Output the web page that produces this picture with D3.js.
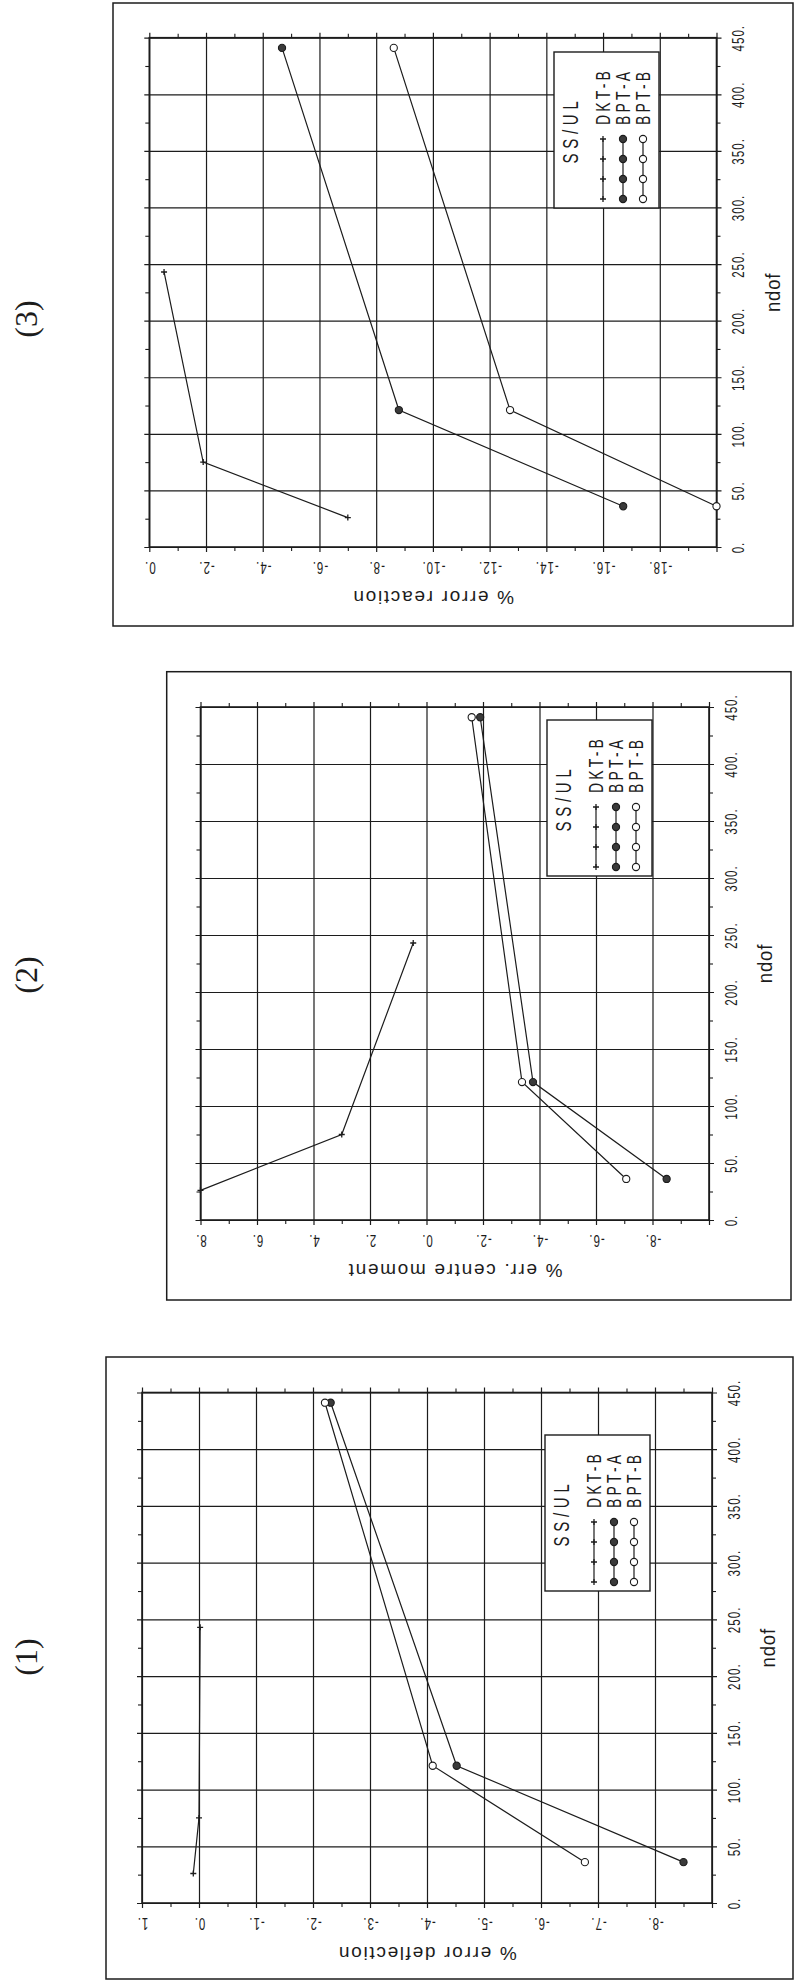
<!DOCTYPE html>
<html>
<head>
<meta charset="utf-8">
<script src="https://cdn.jsdelivr.net/npm/d3@7"></script>
<style>
  body { margin: 0; background: #fff; }
  svg { display: block; }
</style>
</head>
<body>
<div id="page"></div>
<script>
// ndof positions of the three meshes
const ndofTicks = [0, 50, 100, 150, 200, 250, 300, 350, 400, 450];
const ndofDKT = [26, 75, 243];
const ndofBPT = [36, 121, 441];

// (1) % error deflection
const deflTicks = [1, 0, -1, -2, -3, -4, -5, -6, -7, -8];
const deflDKT = [0.1, 0.0, -0.02];
const deflBPTA = [-8.5, -4.52, -2.31];
const deflBPTB = [-6.77, -4.1, -2.21];

// (2) % err. centre moment
const momTicks = [8, 6, 4, 2, 0, -2, -4, -6, -8];
const momDKT = [8.0, 3.0, 0.47];
const momBPTA = [-8.5, -3.77, -1.9];
const momBPTB = [-7.07, -3.38, -1.6];

// (3) % error reaction
const reacTicks = [0, -2, -4, -6, -8, -10, -12, -14, -16, -18];
const reacDKT = [-7.0, -1.9, -0.52];
const reacBPTA = [-16.71, -8.8, -4.68];
const reacBPTB = [-20.0, -12.72, -8.62];

const legendTitle = "SS/UL";
const seriesNames = ["DKT-B", "BPT-A", "BPT-B"];

const width = 795, height = 1981;
const ink = "#1c1c1c";
const sans = "'Liberation Sans', Arial, sans-serif";

const svg = d3.select("#page").append("svg")
  .attr("width", width)
  .attr("height", height)
  .style("background", "#fff");

function drawChart(cfg) {
  const g = svg.append("g");
  const p = cfg.plot;
  const W = p.right - p.left, H = p.bottom - p.top;

  const x = d3.scaleLinear().domain(cfg.domain).range([p.left, p.right]);
  const y = d3.scaleLinear().domain([0, 450]).range([p.bottom, p.top]);

  // outer frame
  g.append("rect")
    .attr("x", cfg.box.left).attr("y", cfg.box.top)
    .attr("width", cfg.box.right - cfg.box.left)
    .attr("height", cfg.box.bottom - cfg.box.top)
    .attr("fill", "none").attr("stroke", ink).attr("stroke-width", 1.5);

  // panel number
  g.append("text")
    .attr("transform", `translate(26,${cfg.numY}) rotate(-90)`)
    .attr("text-anchor", "middle").attr("dy", "0.35em")
    .style("font-family", "'Liberation Serif', serif")
    .style("font-size", "32px").style("fill", ink)
    .text(cfg.num);

  // value gridlines + labels (bottom axis)
  const majors = d3.range(cfg.domain[0], cfg.domain[1] - cfg.step / 2, -cfg.step);
  const bottomAxis = d3.axisBottom(x)
    .tickValues(majors)
    .tickSizeOuter(0)
    .tickFormat(d => cfg.ticks.includes(d) ? `${d}.` : "");
  const ba = g.append("g").attr("transform", `translate(0,${p.bottom})`).call(bottomAxis);
  ba.select(".domain").remove();
  ba.selectAll(".tick line")
    .attr("y1", 5).attr("y2", -(H + 5))
    .attr("stroke", ink).attr("stroke-width", 1.2);
  ba.selectAll(".tick text")
    .attr("x", null).attr("y", null).attr("dy", "0.35em")
    .attr("transform", "translate(0,21) rotate(180) scale(0.68,1)")
    .attr("text-anchor", "middle")
    .style("font-family", sans)
    .style("font-size", "17px").style("letter-spacing", "1.5px")
    .attr("fill", ink);

  // ndof gridlines + labels (right axis)
  const rightAxis = d3.axisRight(y)
    .tickValues(ndofTicks)
    .tickSizeOuter(0)
    .tickFormat(d => `${d}.`);
  const ra = g.append("g").attr("transform", `translate(${p.right},0)`).call(rightAxis);
  ra.select(".domain").remove();
  ra.selectAll(".tick line")
    .attr("x1", 5).attr("x2", -(W + 5))
    .attr("stroke", ink).attr("stroke-width", 1.2);
  ra.selectAll(".tick text")
    .attr("x", null).attr("y", null).attr("dy", "0.35em")
    .attr("transform", "translate(22,0) rotate(-90) scale(0.68,1)")
    .attr("text-anchor", "middle")
    .style("font-family", sans)
    .style("font-size", "17px").style("letter-spacing", "1.5px")
    .attr("fill", ink);

  // minor ticks on all four sides
  const vMinor = majors.slice(0, -1).map(d => d - cfg.step / 2);
  const nMinor = ndofTicks.slice(0, -1).map(d => d + 25);
  const minors = [
    [d3.axisBottom(x).tickValues(vMinor), `translate(0,${p.bottom})`],
    [d3.axisTop(x).tickValues(vMinor), `translate(0,${p.top})`],
    [d3.axisRight(y).tickValues(nMinor), `translate(${p.right},0)`],
    [d3.axisLeft(y).tickValues(nMinor), `translate(${p.left},0)`]
  ];
  minors.forEach(([ax, tr]) => {
    const m = g.append("g").attr("transform", tr)
      .call(ax.tickSize(4).tickSizeOuter(0).tickFormat(""));
    m.select(".domain").remove();
    m.selectAll(".tick line").attr("stroke", ink).attr("stroke-width", 1.1);
  });

  // plot border
  g.append("rect")
    .attr("x", p.left).attr("y", p.top).attr("width", W).attr("height", H)
    .attr("fill", "none").attr("stroke", ink).attr("stroke-width", 1.6);

  // axis titles
  g.append("text")
    .attr("transform", `translate(${(p.left + p.right) / 2},${p.bottom + 51}) rotate(180)`)
    .attr("text-anchor", "middle").attr("dy", "0.35em")
    .style("font-family", sans)
    .style("font-size", "19px").style("letter-spacing", "1.7px")
    .attr("fill", ink)
    .text(cfg.title);

  g.append("text")
    .attr("transform", `translate(${p.right + 56},${(p.top + p.bottom) / 2}) rotate(-90) scale(0.88,1)`)
    .attr("text-anchor", "middle").attr("dy", "0.35em")
    .style("font-family", sans)
    .style("font-size", "21px").style("letter-spacing", "1px")
    .attr("fill", ink)
    .text("ndof");

  // legend
  const lg = g.append("g").attr("transform", `translate(${cfg.legend[0]},${cfg.legend[1]})`);
  lg.append("rect").attr("width", 105).attr("height", 156)
    .attr("fill", "#fff").attr("stroke", ink).attr("stroke-width", 1.4);
  lg.append("text")
    .attr("transform", "translate(16,78) rotate(-90) scale(0.68,1)")
    .attr("text-anchor", "middle").attr("dy", "0.35em")
    .style("font-family", sans)
    .style("font-size", "22px").style("letter-spacing", "7px")
    .attr("fill", ink)
    .text(legendTitle);

  const series = [
    { name: seriesNames[0], n: ndofDKT, v: cfg.dkt, mark: "plus" },
    { name: seriesNames[1], n: ndofBPT, v: cfg.bptA, mark: "filled" },
    { name: seriesNames[2], n: ndofBPT, v: cfg.bptB, mark: "open" }
  ];

  function marker(sel, type) {
    if (type === "plus") {
      sel.append("path").attr("d", "M-3,0H3M0,-3V3")
        .attr("stroke", ink).attr("stroke-width", 1.3);
    } else {
      sel.append("circle").attr("r", 3.6)
        .attr("fill", type === "filled" ? "#3a3a3a" : "#fff")
        .attr("stroke", ink).attr("stroke-width", 1.1);
    }
  }

  const symY = [147, 127, 107, 87];
  series.forEach((s, i) => {
    const cx = 49 + 20 * i;
    lg.append("line").attr("x1", cx).attr("x2", cx).attr("y1", symY[0]).attr("y2", symY[3])
      .attr("stroke", ink).attr("stroke-width", 1.2);
    symY.forEach(sy => marker(lg.append("g").attr("transform", `translate(${cx},${sy})`), s.mark));
    lg.append("text")
      .attr("transform", `translate(${cx},73) rotate(-90) scale(0.7,1)`)
      .attr("text-anchor", "start").attr("dy", "0.36em")
      .style("font-family", sans)
      .style("font-size", "20px").style("letter-spacing", "4.5px")
      .attr("fill", ink)
      .text(s.name);
  });

  // data
  const line = d3.line().x(d => x(d[1])).y(d => y(d[0]));
  series.forEach(s => {
    const pts = d3.zip(s.n, s.v);
    g.append("path").datum(pts)
      .attr("d", line)
      .attr("fill", "none").attr("stroke", ink).attr("stroke-width", 1.2);
    g.selectAll(null).data(pts).enter().append("g")
      .attr("transform", d => `translate(${x(d[1])},${y(d[0])})`)
      .each(function() { marker(d3.select(this), s.mark); });
  });
}

drawChart({
  num: "(3)", numY: 319,
  box: { left: 113, top: 3, right: 793, bottom: 626 },
  plot: { left: 149.3, right: 716.5, top: 37.7, bottom: 547 },
  domain: [0, -20], step: 2, ticks: reacTicks,
  title: "% error reaction",
  legend: [554, 52],
  dkt: reacDKT, bptA: reacBPTA, bptB: reacBPTB
});

drawChart({
  num: "(2)", numY: 975,
  box: { left: 166.7, top: 671.7, right: 791, bottom: 1300 },
  plot: { left: 200.5, right: 709, top: 707, bottom: 1220 },
  domain: [8, -10], step: 2, ticks: momTicks,
  title: "% err. centre moment",
  legend: [547, 720],
  dkt: momDKT, bptA: momBPTA, bptB: momBPTB
});

drawChart({
  num: "(1)", numY: 1657,
  box: { left: 106, top: 1357, right: 793, bottom: 1979 },
  plot: { left: 142, right: 712, top: 1392.5, bottom: 1903 },
  domain: [1, -9], step: 1, ticks: deflTicks,
  title: "% error deflection",
  legend: [545, 1435],
  dkt: deflDKT, bptA: deflBPTA, bptB: deflBPTB
});
</script>
</body>
</html>
